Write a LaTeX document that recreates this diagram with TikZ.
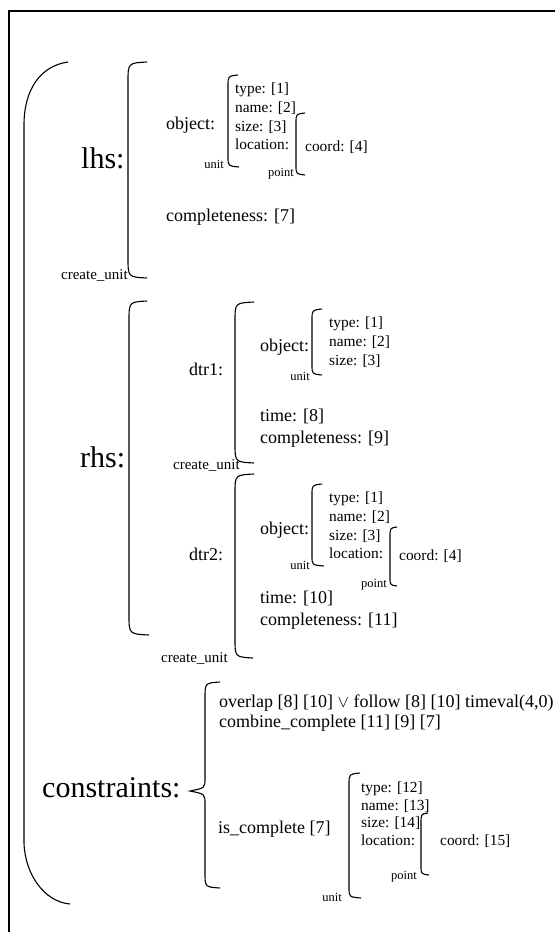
\documentclass[tikz,border=0pt]{standalone}
\usepackage{fontspec}
\setmainfont{Liberation Serif}

\begin{document}
\begin{tikzpicture}[x=1pt,y=-1pt,
      big/.style={font=\fontsize{30}{36}\selectfont,inner sep=0pt,anchor=base west},
      mid/.style={font=\fontsize{18}{22}\selectfont,inner sep=0pt,anchor=base west},
      small/.style={font=\fontsize{15.4}{18.7}\selectfont,inner sep=0pt,align=left,anchor=north west},
      tag/.style={font=\fontsize{12.5}{14}\selectfont,inner sep=0pt,anchor=base east},
      cu/.style={tag,font=\fontsize{15}{17}\selectfont},
      bracket/.style={line width=1.1pt}]
      \useasboundingbox (0,0) rectangle (555,932);
      \draw[line width=2.6pt] (9,932) -- (9,11) -- (555,11);
      \draw[bracket] (68,62) .. controls (40,66) and (24,90) .. (24,125) -- (24,843) .. controls (25,875) and (45,902) .. (70,904);

      \node[big] (lhs) at (81,168) {lhs:};
      \draw[bracket] (147,62) .. controls (128,63) .. (128,82) -- (128,258) .. controls (128,277) .. (147,278);
      \node[cu] (cu0) at (128,279) {create\_unit};
      \node[mid] (obj0) at (166,129) {object:};
      \draw[bracket] (238,75) .. controls (228,76) .. (228,86) -- (228,157) .. controls (228,166) .. (239,167);
      \node[tag] (unit0) at (224,168) {unit};
      \node[small] (list0) at (235,83) {type: [1]\\name: [2]\\size: [3]\\location:};
      \draw[bracket] (305,113) .. controls (296,114) .. (296,123) -- (296,165) .. controls (296,174) .. (305,175);
      \node[tag] (pt0) at (294,176) {point};
      \node[small,anchor=base west] (crd0) at (305,151) {coord: [4]};
      \node[mid] (cmp0) at (166,221) {completeness: [7]};

      \node[big] (rhs) at (80,467) {rhs:};
      \draw[bracket] (147,301) .. controls (129,302) .. (129,321) -- (129,615) .. controls (129,634) .. (149,635);
      \node[mid] (dtr1) at (189,375) {dtr1:};
      \draw[bracket] (254,302) .. controls (235,303) .. (235,321) -- (235,444) .. controls (235,462) .. (254,463);
      \node[cu] (cu1) at (240,469) {create\_unit};
      \node[mid] (obj1) at (260,351) {object:};
      \draw[bracket] (322,309) .. controls (312,310) .. (312,320) -- (312,365) .. controls (312,374) .. (322,375);
      \node[tag] (unit1) at (310,380) {unit};
      \node[small] (list1) at (329,317) {type: [1]\\name: [2]\\size: [3]};
      \node[mid] (tim1) at (260,421) {time: [8]};
      \node[mid] (cmp1) at (260,443) {completeness: [9]};

      \node[mid] (dtr2) at (189,560) {dtr2:};
      \draw[bracket] (254,474) .. controls (235,475) .. (235,493) -- (235,639) .. controls (235,657) .. (253,658);
      \node[cu] (cu2) at (228,662) {create\_unit};
      \node[mid] (obj2) at (260,534) {object:};
      \draw[bracket] (322,484) .. controls (312,485) .. (312,495) -- (312,556) .. controls (312,565) .. (324,566);
      \node[tag] (unit2) at (310,569) {unit};
      \node[small] (list2) at (329,492) {type: [1]\\name: [2]\\size: [3]\\location:};
      \draw[bracket] (397,527) .. controls (390,528) .. (390,537) -- (390,577) .. controls (390,585) .. (397,586);
      \node[tag] (pt2) at (387,587) {point};
      \node[small,anchor=base west] (crd2) at (399,560) {coord: [4]};
      \node[mid] (tim2) at (260,603) {time: [10]};
      \node[mid] (cmp2) at (260,625) {completeness: [11]};

      \node[big] (cons) at (42,797) {constraints:};
      \draw[bracket] (220,682) .. controls (205,683) .. (205,698) -- (205,778) .. controls (205,788) .. (190,791) .. controls (205,794) .. (205,804) -- (205,873) .. controls (205,887) .. (220,888);
      \node[mid] (ovl) at (219,707) {overlap [8] [10] $\vee$ follow [8] [10] timeval(4,0)};
      \node[mid] (cmb) at (219,727) {combine\_complete [11] [9] [7]};
      \node[mid] (isc) at (218,833) {is\_complete [7]};
      \draw[bracket] (360,773) .. controls (349,774) .. (349,785) -- (349,887) .. controls (349,897) .. (361,898);
      \node[tag] (unit3) at (342,901) {unit};
      \node[small,font=\fontsize{15.4}{17.5}\selectfont] (list3) at (361,782) {type: [12]\\name: [13]\\size: [14]\\location:};
      \draw[bracket] (428,813) .. controls (421,814) .. (421,823) -- (421,866) .. controls (421,874) .. (429,875);
      \node[tag] (pt3) at (417,879) {point};
      \node[small,anchor=base west] (crd3) at (440,845) {coord: [15]};
    \end{tikzpicture}
\end{document}
